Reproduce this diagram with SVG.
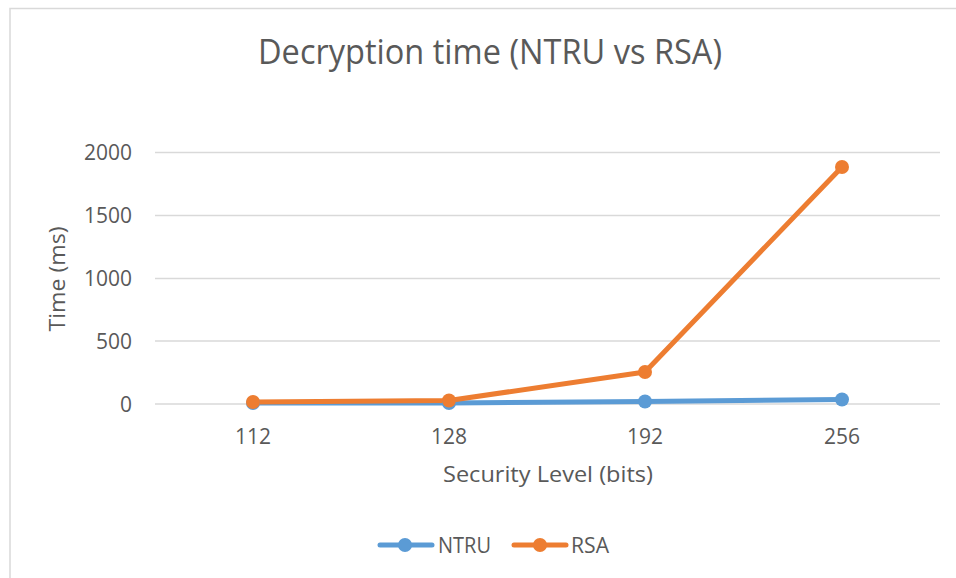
<svg xmlns="http://www.w3.org/2000/svg" width="956" height="578" viewBox="0 0 956 578">
<style>
text{font-family:"Open Sans","Liberation Sans",sans-serif;fill:#595959}
.tick{font-size:21px}
.grid{stroke:#D9D9D9;stroke-width:1.5}
.ntru{stroke:#5B9BD5;stroke-width:5;fill:none;stroke-linecap:round;stroke-linejoin:round}
.rsa{stroke:#ED7D31;stroke-width:5;fill:none;stroke-linecap:round;stroke-linejoin:round}
.mn{fill:#5B9BD5}
.mr{fill:#ED7D31}
</style>
<rect width="956" height="578" fill="#fff"/>
<rect x="10" y="8.5" width="960" height="600" fill="#fff" stroke="#D9D9D9" stroke-width="1.5"/>
<g id="title"><text x="490" y="64" font-size="34" text-anchor="middle" textLength="464" lengthAdjust="spacingAndGlyphs">Decryption time (NTRU vs RSA)</text></g>
<g id="grid">
<line class="grid" x1="155" y1="152.5" x2="940" y2="152.5"/>
<line class="grid" x1="155" y1="215.5" x2="940" y2="215.5"/>
<line class="grid" x1="155" y1="278.5" x2="940" y2="278.5"/>
<line class="grid" x1="155" y1="341" x2="940" y2="341"/>
<line class="grid" x1="155" y1="404" x2="940" y2="404"/>
</g>
<g id="y-axis" text-anchor="end">
<text class="tick" x="132" y="160">2000</text>
<text class="tick" x="132" y="223">1500</text>
<text class="tick" x="132" y="286">1000</text>
<text class="tick" x="132" y="349">500</text>
<text class="tick" x="132" y="412">0</text>
<text x="0" y="0" font-size="22" text-anchor="middle" textLength="105" lengthAdjust="spacingAndGlyphs" transform="translate(65 279) rotate(-90)">Time (ms)</text>
</g>
<g id="x-axis" text-anchor="middle">
<text class="tick" x="253" y="444">112</text>
<text class="tick" x="449" y="444">128</text>
<text class="tick" x="645" y="444">192</text>
<text class="tick" x="842" y="444">256</text>
<text x="548" y="482" font-size="22" textLength="210" lengthAdjust="spacingAndGlyphs">Security Level (bits)</text>
</g>
<g id="connectors">
<polyline class="ntru" points="253,403 449,403 645,401.5 842,399.5"/>
<polyline class="rsa" points="253,402 449,400.5 645,372 842,167"/>
</g>
<g id="ntru-markers">
<circle class="mn" cx="253" cy="403" r="7"/>
<circle class="mn" cx="449" cy="403" r="7"/>
<circle class="mn" cx="645" cy="401.5" r="7"/>
<circle class="mn" cx="842" cy="399.5" r="7"/>
</g>
<g id="rsa-markers">
<circle class="mr" cx="253" cy="402" r="7"/>
<circle class="mr" cx="449" cy="400.5" r="7"/>
<circle class="mr" cx="645" cy="372" r="7"/>
<circle class="mr" cx="842" cy="167" r="7"/>
</g>
<g id="legend">
<line class="ntru" x1="380" y1="545" x2="432" y2="545"/>
<circle class="mn" cx="405" cy="545" r="7"/>
<text x="438" y="553" font-size="21" textLength="53" lengthAdjust="spacingAndGlyphs">NTRU</text>
<line class="rsa" x1="514" y1="545" x2="566" y2="545"/>
<circle class="mr" cx="540" cy="545" r="7"/>
<text x="571" y="553" font-size="21" textLength="38" lengthAdjust="spacingAndGlyphs">RSA</text>
</g>
</svg>
